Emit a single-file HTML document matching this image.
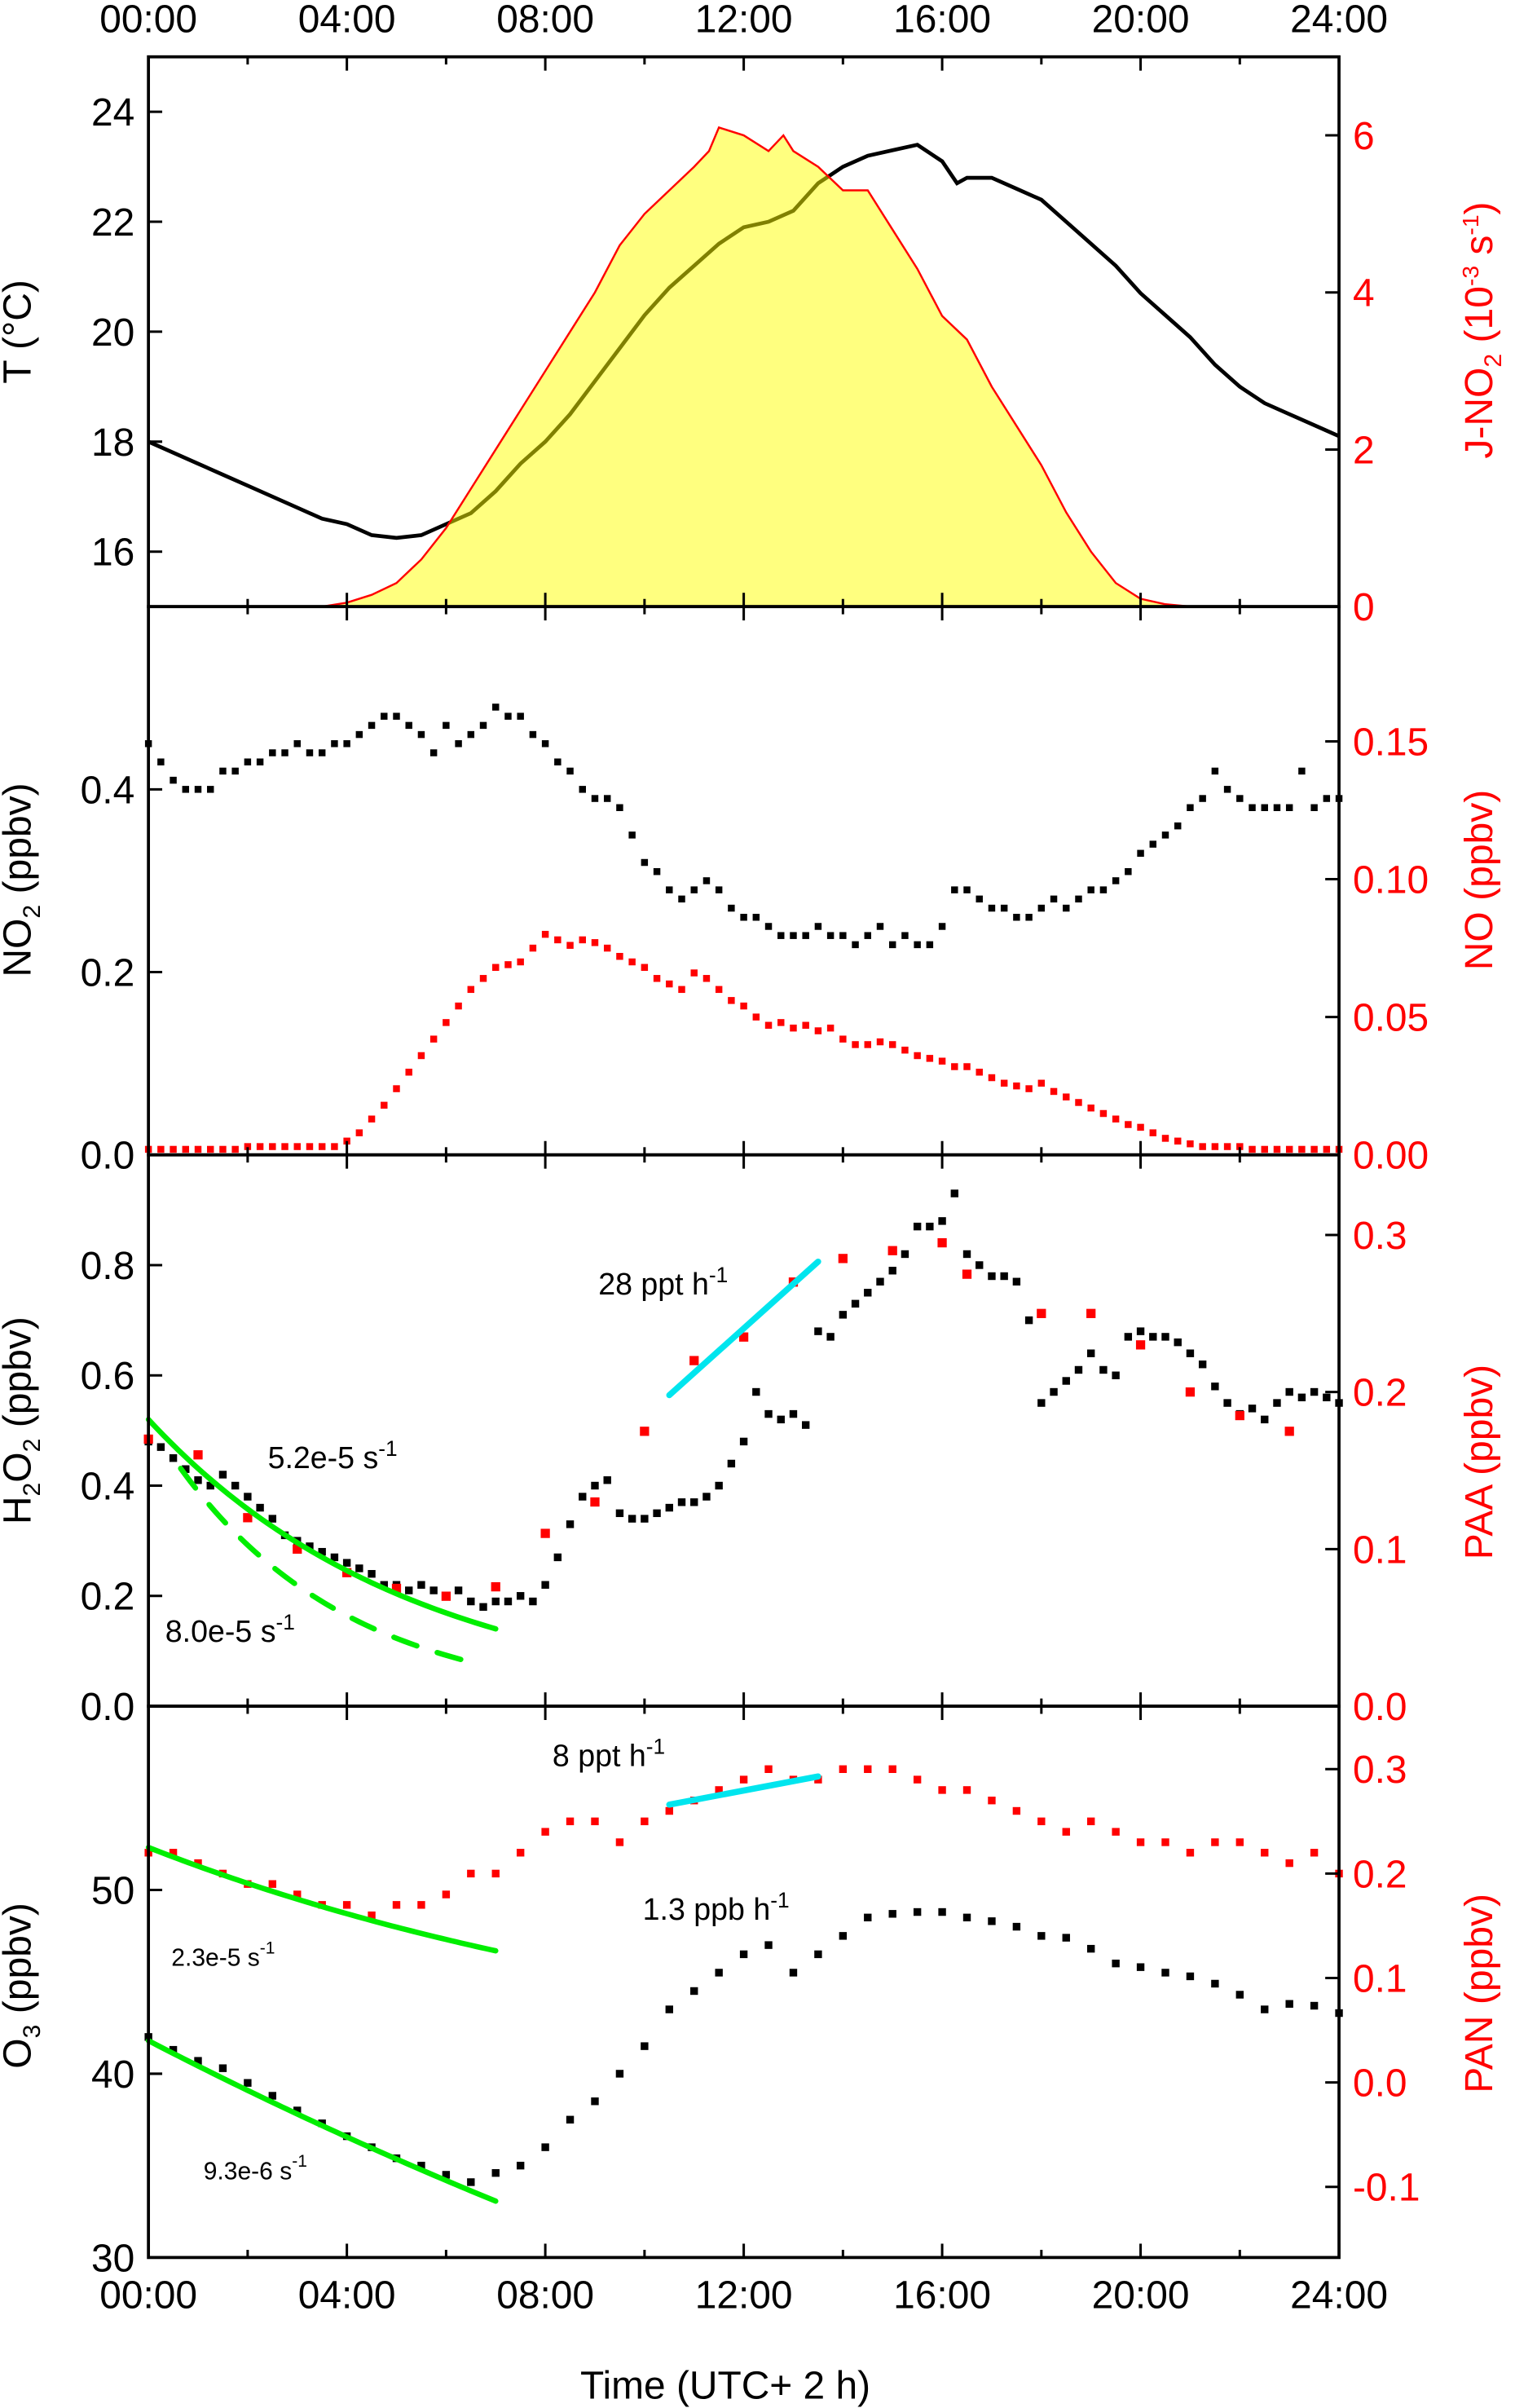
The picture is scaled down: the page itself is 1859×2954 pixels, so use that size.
<!DOCTYPE html>
<html><head><meta charset="utf-8">
<style>
html,body{margin:0;padding:0;background:#fff;}
svg{display:block;}
text{font-family:"Liberation Sans",Arial,sans-serif;}
</style></head>
<body>
<svg id="chart" width="1859" height="2954" viewBox="0 0 990 1568" preserveAspectRatio="none" xmlns="http://www.w3.org/2000/svg"></svg>
<script>
// ---- data ----
const tempTimes=[0,0.5,1,1.5,2,2.5,3,3.5,4,4.5,5,5.5,6,6.5,7,7.5,8,8.5,9,9.5,10,10.5,11,11.5,12,12.5,13,13.5,14,14.5,15,15.5,16,16.3,16.5,17,17.5,18,18.5,19,19.5,20,20.5,21,21.5,22,22.5,23,23.5,24];
const tempValues=[18.0,17.8,17.6,17.4,17.2,17.0,16.8,16.6,16.5,16.3,16.25,16.3,16.5,16.7,17.1,17.6,18.0,18.5,19.1,19.7,20.3,20.8,21.2,21.6,21.9,22.0,22.2,22.7,23.0,23.2,23.3,23.4,23.1,22.7,22.8,22.8,22.6,22.4,22.0,21.6,21.2,20.7,20.3,19.9,19.4,19.0,18.7,18.5,18.3,18.1];
const jTimes=[0,3.5,4,4.5,5,5.5,6,6.5,7,7.5,8,8.5,9,9.5,10,10.5,11,11.3,11.5,12,12.5,12.8,13,13.5,14,14.5,15,15.5,16,16.5,17,17.5,18,18.5,19,19.5,20,20.5,21,24];
const jValues=[0,0,0.05,0.15,0.3,0.6,1.0,1.5,2.0,2.5,3.0,3.5,4.0,4.6,5.0,5.3,5.6,5.8,6.1,6.0,5.8,6.0,5.8,5.6,5.3,5.3,4.8,4.3,3.7,3.4,2.8,2.3,1.8,1.2,0.7,0.3,0.1,0.03,0,0];
const q=[];for(let i=0;i<=96;i++)q.push(i*0.25);
const no2Values=[0.45,0.43,0.41,0.40,0.40,0.40,0.42,0.42,0.43,0.43,0.44,0.44,0.45,0.44,0.44,0.45,0.45,0.46,0.47,0.48,0.48,0.47,0.46,0.44,0.47,0.45,0.46,0.47,0.49,0.48,0.48,0.46,0.45,0.43,0.42,0.40,0.39,0.39,0.38,0.35,0.32,0.31,0.29,0.28,0.29,0.30,0.29,0.27,0.26,0.26,0.25,0.24,0.24,0.24,0.25,0.24,0.24,0.23,0.24,0.25,0.23,0.24,0.23,0.23,0.25,0.29,0.29,0.28,0.27,0.27,0.26,0.26,0.27,0.28,0.27,0.28,0.29,0.29,0.30,0.31,0.33,0.34,0.35,0.36,0.38,0.39,0.42,0.40,0.39,0.38,0.38,0.38,0.38,0.42,0.38,0.39,0.39];
const noValues=[0.002,0.002,0.002,0.002,0.002,0.002,0.002,0.002,0.003,0.003,0.003,0.003,0.003,0.003,0.003,0.003,0.005,0.008,0.013,0.018,0.024,0.030,0.036,0.042,0.048,0.054,0.060,0.064,0.068,0.069,0.070,0.075,0.080,0.078,0.076,0.078,0.077,0.075,0.072,0.070,0.068,0.064,0.062,0.060,0.066,0.064,0.060,0.056,0.054,0.050,0.047,0.048,0.046,0.047,0.045,0.046,0.042,0.040,0.040,0.041,0.040,0.038,0.036,0.035,0.034,0.032,0.032,0.030,0.028,0.026,0.025,0.024,0.026,0.023,0.021,0.019,0.017,0.015,0.013,0.011,0.010,0.008,0.006,0.005,0.004,0.003,0.003,0.003,0.003,0.002,0.002,0.002,0.002,0.002,0.002,0.002,0.002];
const h2o2Values=[0.48,0.47,0.45,0.43,0.41,0.40,0.42,0.40,0.38,0.36,0.34,0.31,0.30,0.29,0.28,0.27,0.26,0.25,0.24,0.22,0.22,0.21,0.22,0.21,0.20,0.21,0.19,0.18,0.19,0.19,0.20,0.19,0.22,0.27,0.33,0.38,0.40,0.41,0.35,0.34,0.34,0.35,0.36,0.37,0.37,0.38,0.40,0.44,0.48,0.57,0.53,0.52,0.53,0.51,0.68,0.67,0.71,0.73,0.75,0.77,0.79,0.82,0.87,0.87,0.88,0.93,0.82,0.80,0.78,0.78,0.77,0.70,0.55,0.57,0.59,0.61,0.64,0.61,0.60,0.67,0.68,0.67,0.67,0.66,0.64,0.62,0.58,0.55,0.53,0.54,0.52,0.55,0.57,0.56,0.57,0.56,0.55];
const paaTimes=[0,1,2,3,4,5,6,7,8,9,10,11,12,13,14,15,16,16.5,18,19,20,21,22,23];
const paaValues=[0.17,0.16,0.12,0.10,0.085,0.075,0.07,0.076,0.11,0.13,0.175,0.22,0.235,0.27,0.285,0.29,0.295,0.275,0.25,0.25,0.23,0.20,0.185,0.175];
const h=[];for(let i=0;i<=48;i++)h.push(i*0.5);
const o3Values=[42,41.3,40.7,40.3,39.5,38.8,38,37.3,36.6,36,35.4,35,34.5,34.1,34.6,35,36,37.5,38.5,40,41.5,43.5,44.5,45.5,46.5,47,45.5,46.5,47.5,48.5,48.7,48.8,48.8,48.5,48.3,48,47.5,47.4,46.8,46,45.8,45.5,45.3,44.9,44.3,43.5,43.8,43.7,43.3];
const panValues=[0.22,0.22,0.21,0.20,0.19,0.19,0.18,0.17,0.17,0.16,0.17,0.17,0.18,0.20,0.20,0.22,0.24,0.25,0.25,0.23,0.25,0.26,0.27,0.28,0.29,0.30,0.29,0.29,0.30,0.30,0.30,0.29,0.28,0.28,0.27,0.26,0.25,0.24,0.25,0.24,0.23,0.23,0.22,0.23,0.23,0.22,0.21,0.22,0.20];
const xTickLabels=["00:00","04:00","08:00","12:00","16:00","20:00","24:00"];
const fitH2O2=[0.52,5.2e-5,0,7];
const fitH2O2b=[0.52,8.0e-5,0.65,6.5];
const fitPAN=[0.225,2.3e-5,0,7];
const fitO3=[41.8,9.3e-6,0,7];
const trendPAA=[10.5,0.198,13.5,0.283];
const trendPAN=[10.5,0.266,13.5,0.293];

// ---- layout ----
const NS="http://www.w3.org/2000/svg";
const svg=document.getElementById('chart');
const L=97,R=875;
const X=t=>L+t*(R-L)/24;
const lin=(v0,v1,p0,p1)=>v=>p0+(v-v0)*(p1-p0)/(v1-v0);
const P=[{top:37,bot:395},{top:395,bot:752},{top:752,bot:1111},{top:1111,bot:1470}];
const yT=lin(15,25,395,37), yJ=lin(0,7,395,37);
const yNO2=lin(0,0.6,752,395), yNO=lin(0,0.2,752,393);
const yH=lin(0,1.0,1111,752), yPAA=lin(0,0.35,1111,753);
const yO3=lin(30,60,1470,1111), yPAN=lin(0,0.3,1356,1152);
const FS=25.5;
function el(tag,attrs,parent){const e=document.createElementNS(NS,tag);for(const k in attrs)e.setAttribute(k,attrs[k]);(parent||svg).appendChild(e);return e;}
function txt(s,x,y,attrs,name){const e=el('text',Object.assign({x:x,y:y,'font-size':FS},attrs));e.innerHTML=s;

return e;}
function pathFrom(xs,ys,fx,fy){return xs.map((t,i)=>(i?'L':'M')+fx(t).toFixed(2)+','+fy(ys[i]).toFixed(2)).join('');}
function squares(xs,ys,fy,color,name,s){const g=el('g',{fill:color});


xs.forEach((t,i)=>{const r=el('rect',{x:X(t)-s/2,y:fy(ys[i])-s/2,width:s,height:s},g);

});}
function fitLine(p,fy,name,dash){const ts=[];for(let t=p[2];t<=p[3]+1e-9;t+=0.1)ts.push(t);
const vs=ts.map(t=>p[0]*Math.exp(-p[1]*t*3600));
const e=el('path',{d:pathFrom(ts,vs,X,fy),fill:'none',stroke:'#00ee00','stroke-width':3.5,'stroke-linecap':'round'});
if(dash)e.setAttribute('stroke-dasharray','16 14');

}
function trend(p,fy,name){const e=el('line',{x1:X(p[0]),y1:fy(p[1]),x2:X(p[2]),y2:fy(p[3]),stroke:'#00e5ee','stroke-width':4,'stroke-linecap':'round'});

}

// ---- panel 1 ----
const tl=el('path',{d:pathFrom(tempTimes,tempValues,X,yT),fill:'none',stroke:'#000','stroke-width':2.5});


const jf=el('path',{d:pathFrom(jTimes,jValues,X,yJ)+'L'+X(24)+','+yJ(0)+'L'+X(0)+','+yJ(0)+'Z',fill:'#ffff00','fill-opacity':0.5,stroke:'none'});


const jl=el('path',{d:pathFrom(jTimes,jValues,X,yJ),fill:'none',stroke:'#ff0000','stroke-width':1.3});


// ---- panel 2 ----
squares(q,no2Values,yNO2,'#000','no2-series',4.5);
squares(q,noValues,yNO,'#f00','no-series',4.5);
// ---- panel 3 ----
squares(q,h2o2Values,yH,'#000','h2o2-series',5);
squares(paaTimes,paaValues,yPAA,'#f00','paa-series',6);
fitLine(fitH2O2,yH,'h2o2-fit-solid',false);
fitLine(fitH2O2b,yH,'h2o2-fit-dashed',true);
trend(trendPAA,yPAA,'paa-trend-line');
// ---- panel 4 ----
squares(h,o3Values,yO3,'#000','o3-series',5);
squares(h,panValues,yPAN,'#f00','pan-series',5);
fitLine(fitO3,yO3,'o3-fit',false);
fitLine(fitPAN,yPAN,'pan-fit',false);
trend(trendPAN,yPAN,'pan-trend-line');

// ---- frames & ticks ----
P.forEach((p,i)=>{
 const r=el('rect',{x:L,y:p.top,width:R-L,height:p.bot-p.top,fill:'none',stroke:'#000','stroke-width':2});
 
 
 for(let t=0;t<=24;t+=2){const len=(t%4===0)?9:5;
  el('line',{x1:X(t),x2:X(t),y1:p.top,y2:p.top+len,stroke:'#000','stroke-width':1.6});
  el('line',{x1:X(t),x2:X(t),y1:p.bot,y2:p.bot-len,stroke:'#000','stroke-width':1.6});}
});
function yTicks(vals,fy,side,color,fmt,name){vals.forEach(v=>{const y=fy(v);
 if(side==='L'){el('line',{x1:L,x2:L+9,y1:y,y2:y,stroke:'#000','stroke-width':1.6});txt(fmt(v),88,y+9,{'text-anchor':'end',fill:color},name);}
 else{el('line',{x1:R,x2:R-9,y1:y,y2:y,stroke:'#000','stroke-width':1.6});txt(fmt(v),884,y+9,{'text-anchor':'start',fill:color},name);}});}
const tickT=[16,18,20,22,24],tickJ=[0,2,4,6],tickNO2=[0,0.2,0.4],tickNO=[0,0.05,0.10,0.15],tickH=[0,0.2,0.4,0.6,0.8],tickPAA=[0,0.1,0.2,0.3],tickO3=[30,40,50],tickPAN=[-0.1,0,0.1,0.2,0.3];
yTicks(tickT,yT,'L','#000',v=>v,'t-tick-label');
yTicks(tickJ,yJ,'R','#f00',v=>v,'jno2-tick-label');
yTicks(tickNO2,yNO2,'L','#000',v=>v.toFixed(1),'no2-tick-label');
yTicks(tickNO,yNO,'R','#f00',v=>v.toFixed(2),'no-tick-label');
yTicks(tickH,yH,'L','#000',v=>v.toFixed(1),'h2o2-tick-label');
yTicks(tickPAA,yPAA,'R','#f00',v=>v.toFixed(1),'paa-tick-label');
yTicks(tickO3,yO3,'L','#000',v=>v,'o3-tick-label');
yTicks(tickPAN,yPAN,'R','#f00',v=>v.toFixed(1),'pan-tick-label');
xTickLabels.forEach((s,i)=>{txt(s,X(i*4),21,{'text-anchor':'middle'},'top-x-tick-label');txt(s,X(i*4),1503,{'text-anchor':'middle'},'bottom-x-tick-label');});
txt('Time (UTC+ 2 h)',474,1562,{'text-anchor':'middle'},'x-axis-title');
function vtitle(html,x,y,color,name){txt(html,x,y,{'text-anchor':'middle',fill:color,transform:'rotate(-90 '+x+' '+y+')'},name);}
vtitle('T (°C)',20,216,'#000','t-axis-title');
vtitle('NO<tspan font-size="16" dy="6">2</tspan><tspan dy="-6"> (ppbv)</tspan>',20,573,'#000','no2-axis-title');
vtitle('NO (ppbv)',975,573,'#f00','no-axis-title');
vtitle('H<tspan font-size="16" dy="6">2</tspan><tspan dy="-6">O</tspan><tspan font-size="16" dy="6">2</tspan><tspan dy="-6"> (ppbv)</tspan>',20,925,'#000','h2o2-axis-title');
vtitle('PAA (ppbv)',975,952,'#f00','paa-axis-title');
vtitle('O<tspan font-size="16" dy="6">3</tspan><tspan dy="-6"> (ppbv)</tspan>',20,1293,'#000','o3-axis-title');
vtitle('PAN (ppbv)',975,1298,'#f00','pan-axis-title');
vtitle('J-NO<tspan font-size="16" dy="6">2</tspan><tspan dy="-6"> (10</tspan><tspan font-size="15" dy="-9">-3</tspan><tspan dy="9"> s</tspan><tspan font-size="15" dy="-9">-1</tspan><tspan dy="9">)</tspan>',975,215,'#f00','jno2-axis-title');
function ann(main,x,y,fs,name){txt(main+'<tspan font-size="'+(fs*0.7)+'" dy="-8">-1</tspan>',x,y,{'font-size':fs},name);}
ann('28 ppt h',391,843,20,'paa-rate-label');
ann('5.2e-5 s',175,956,20,'h2o2-k-solid-label');
ann('8.0e-5 s',108,1069,20,'h2o2-k-dashed-label');
ann('8 ppt h',361,1150,20,'pan-rate-label');
ann('1.3 ppb h',420,1250,20,'o3-rate-label');
ann('2.3e-5 s',112,1280,16,'pan-k-label');
ann('9.3e-6 s',133,1419,16,'o3-k-label');
</script>
</body></html>
